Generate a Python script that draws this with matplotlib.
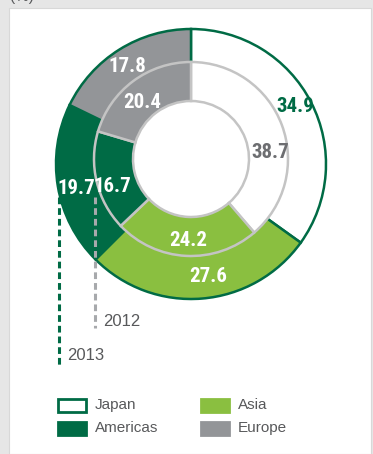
import matplotlib.pyplot as plt
from matplotlib.patches import Rectangle

#-------------------------------------------------------------------------------------------------

regions = ["Japan", "Asia", "Americas", "Europe"]
share2013 = [34.9, 27.6, 19.7, 17.8]
share2012 = [38.7, 24.2, 16.7, 20.4]

darkGreen = "#006b45"
lightGreen = "#8abf40"
grey = "#939598"
ringLine = "#c4c4c4"
textGrey = "#58595b"

fillColors = ["white", lightGreen, darkGreen, grey]
labelColors2013 = [darkGreen, "white", "white", "white"]
labelColors2012 = ["#6d6e71", "white", "white", "white"]

# label spots (pixel coords, y from top)
labelPos2013 = [(295, 106), (208, 277), (76, 188), (127, 67)]
labelPos2012 = [(270, 152), (188, 240), (112, 186), (142, 102)]

W, H = 373, 454
numFont = ["Roboto Condensed", "Roboto", "DejaVu Sans"]
plainFont = ["Liberation Sans", "DejaVu Sans"]

#-------------------------------------------------------------------------------------------------

def Y(y):
	return H - y

fig = plt.figure(figsize=(W / 100, H / 100), dpi=100)
fig.patch.set_facecolor("#e6e6e6")
ax = fig.add_axes([0, 0, 1, 1])

# 2013 outer ring
ax.pie(share2013, radius=135, center=(191, Y(164)), startangle=90, counterclock=False,
	colors=fillColors, wedgeprops=dict(width=52, edgecolor=darkGreen, linewidth=1.8))

# 2012 inner ring
ax.pie(share2012, radius=97, center=(191, Y(159)), startangle=90, counterclock=False,
	colors=fillColors, wedgeprops=dict(width=39, edgecolor=ringLine, linewidth=1.8))

ax.set_xlim(0, W)
ax.set_ylim(0, H)
ax.set_aspect("auto")
ax.axis("off")

# white panel behind everything
ax.add_patch(Rectangle((9, 0), 362, Y(8), facecolor="white", edgecolor="#d8d8d8", linewidth=0.8, zorder=-5))
ax.text(10, Y(4), "(%)", family=plainFont, fontsize=11, color=textGrey, va="bottom", ha="left")

for i in range(len(regions)):
	x, y = labelPos2013[i]
	ax.text(x, Y(y), "%.1f" % share2013[i], family=numFont, fontweight="bold", fontsize=15,
		color=labelColors2013[i], ha="center", va="center", zorder=5)
	x, y = labelPos2012[i]
	ax.text(x, Y(y), "%.1f" % share2012[i], family=numFont, fontweight="bold", fontsize=15,
		color=labelColors2012[i], ha="center", va="center", zorder=5)

# year pointers
ax.plot([59, 59], [Y(197), Y(366)], color=darkGreen, linewidth=2.2, linestyle=(0, (2.2, 1.3)), zorder=4)
ax.text(67, Y(355), "2013", family=plainFont, fontsize=12, color=textGrey, va="center", ha="left")
ax.plot([95, 95], [Y(197), Y(328)], color="#a7a9ac", linewidth=2.2, linestyle=(0, (2.2, 1.3)), zorder=4)
ax.text(103, Y(321), "2012", family=plainFont, fontsize=12, color=textGrey, va="center", ha="left")

# legend
legendPos = [(57, 398), (200, 398), (57, 421), (200, 421)]
for i in range(len(regions)):
	x, y = legendPos[i]
	edge = darkGreen if regions[i] == "Japan" else fillColors[i]
	ax.add_patch(Rectangle((x + 1, Y(y + 14)), 28, 13, facecolor=fillColors[i], edgecolor=edge, linewidth=2))
	ax.text(x + 38, Y(y + 7), regions[i], family=plainFont, fontsize=11, color=textGrey, va="center", ha="left")

fig.savefig("out.png", dpi=100, facecolor=fig.get_facecolor())
